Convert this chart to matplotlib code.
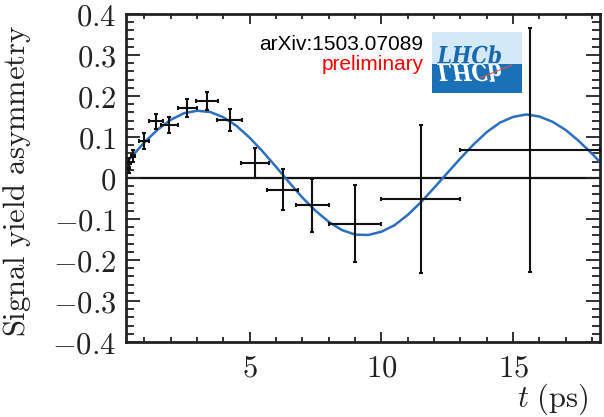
import matplotlib
matplotlib.use("Agg")
import matplotlib.pyplot as plt
from matplotlib.ticker import MultipleLocator, FuncFormatter
from matplotlib.patches import Rectangle, PathPatch
from matplotlib.textpath import TextPath
from matplotlib.font_manager import FontProperties
from matplotlib.transforms import Affine2D
from matplotlib.lines import Line2D

plt.rcParams['mathtext.fontset'] = 'cm'

# binned signal yield asymmetry
t_pts = [0.41, 0.43, 0.56, 0.98, 1.44, 1.95, 2.63, 3.38, 4.24, 5.19, 6.26, 7.38, 9.00, 11.50, 15.65]
t_err = [0.05, 0.06, 0.07, 0.20, 0.25, 0.31, 0.37, 0.43, 0.47, 0.53, 0.59, 0.63, 1.00, 1.50, 2.65]
asym = [0.024, 0.037, 0.053, 0.090, 0.138, 0.130, 0.171, 0.187, 0.142, 0.037,
        -0.029, -0.067, -0.111, -0.051, 0.069]
asym_err = [0.012, 0.013, 0.015, 0.020, 0.018, 0.020, 0.021, 0.022, 0.027, 0.037,
            0.050, 0.065, 0.095, 0.180, 0.298]

# fit projection
t_fit = [0.3, 0.5, 1.0, 1.5, 2.0, 2.5, 3.0, 3.5, 4.0, 4.5, 5.0, 5.5, 6.0, 6.5, 7.0,
         7.5, 8.0, 8.5, 9.0, 9.5, 10.0, 10.5, 11.0, 11.5, 12.0, 12.5, 13.0, 13.5,
         14.0, 14.5, 15.0, 15.5, 16.0, 16.5, 17.0, 17.5, 18.0, 18.3]
a_fit = [0.040, 0.051, 0.087, 0.118, 0.142, 0.158, 0.164, 0.161, 0.148, 0.127,
         0.098, 0.064, 0.027, -0.011, -0.048, -0.080, -0.107, -0.127, -0.138,
         -0.139, -0.131, -0.115, -0.090, -0.059, -0.024, 0.012, 0.048, 0.082,
         0.112, 0.135, 0.149, 0.155, 0.150, 0.137, 0.117, 0.090, 0.059, 0.039]

fig = plt.figure(figsize=(6.04, 4.17), dpi=100)
ax = fig.add_axes([126/604, 1 - 342/417, 474/604, 328/417])

ax.axhline(0, color='#111111', lw=1.6, zorder=1)
ax.plot(t_fit, a_fit, color='#2b6fbd', lw=1.8, zorder=2)
ax.errorbar(t_pts, asym, xerr=t_err, yerr=asym_err, fmt='none', ecolor='#111111',
            elinewidth=1.5, capsize=1.5, capthick=1.5, zorder=3)

ax.set_xlim(0.3, 18.3)
ax.set_ylim(-0.4, 0.4)

ax.xaxis.set_major_locator(MultipleLocator(5))
ax.xaxis.set_minor_locator(MultipleLocator(1))
ax.yaxis.set_major_locator(MultipleLocator(0.1))
ax.yaxis.set_minor_locator(MultipleLocator(0.02))


def yfmt(v, pos):
    if abs(v) < 1e-9:
        return r'$0$'
    return r'$%.1f$' % v


ax.yaxis.set_major_formatter(FuncFormatter(yfmt))
ax.xaxis.set_major_formatter(FuncFormatter(lambda v, p: r'$%d$' % v))

ax.tick_params(axis='both', which='both', direction='in', top=True, right=True,
               color='#222222', width=1.3, labelsize=22, labelcolor='#222222')
ax.tick_params(axis='x', which='major', length=7.5, pad=8)
ax.tick_params(axis='x', which='minor', length=3.8)
ax.tick_params(axis='y', which='major', length=10, pad=7)
ax.tick_params(axis='y', which='minor', length=5.5)
for sp in ax.spines.values():
    sp.set_linewidth(2)
    sp.set_color('#222222')

ax.set_ylabel(r'$\mathrm{Signal\ yield\ asymmetry}$', fontsize=22, color='#222222')
ax.yaxis.set_label_coords(-0.196, 0.49)
ax.set_xlabel(r'$t\ (\mathrm{ps})$', fontsize=22, ha='right', color='#222222')
ax.xaxis.set_label_coords(0.977, -0.12)

# annotation
fig.text(423/604, 1 - 50/417, 'arXiv:1503.07089', family='Liberation Sans',
         fontsize=15, color='black', ha='right', va='baseline')
fig.text(424/604, 1 - 70/417, 'preliminary', family='Liberation Sans',
         fontsize=15, color='red', ha='right', va='baseline')

# LHCb logo
px = fig.dpi_scale_trans


def box(x0, y0, x1, y1, c):
    fig.patches.append(Rectangle((x0/100, (417 - y1)/100), (x1 - x0)/100, (y1 - y0)/100,
                                 transform=px, facecolor=c, edgecolor='none'))


box(431.5, 32, 521.5, 64, '#d3eaf6')
box(431.5, 64, 521.5, 93, '#1b71b7')

fp = FontProperties(family='DejaVu Serif', style='italic', weight='bold')
tp = TextPath((0, 0), 'LHCb', size=1, prop=fp)
ext = tp.get_extents()
sx = 64 / ext.width
sy = 24.0
base = 417 - 63.5
up = Affine2D().translate(-ext.x0, 0).scale(sx/100, sy/100).translate(437/100, base/100) + px
dn = Affine2D().translate(-ext.x0, 0).scale(sx/100, -sy/100).translate(437/100, base/100) + px
fig.patches.append(PathPatch(tp, transform=up, facecolor='#1a68ae', edgecolor='none'))
fig.patches.append(PathPatch(tp, transform=dn, facecolor='white', edgecolor='none'))
fig.lines.append(Line2D([480/100, 512/100], [(417 - 78)/100, (417 - 65)/100],
                        transform=px, color='#e05050', lw=0.8))

fig.savefig('out.png', dpi=100)
